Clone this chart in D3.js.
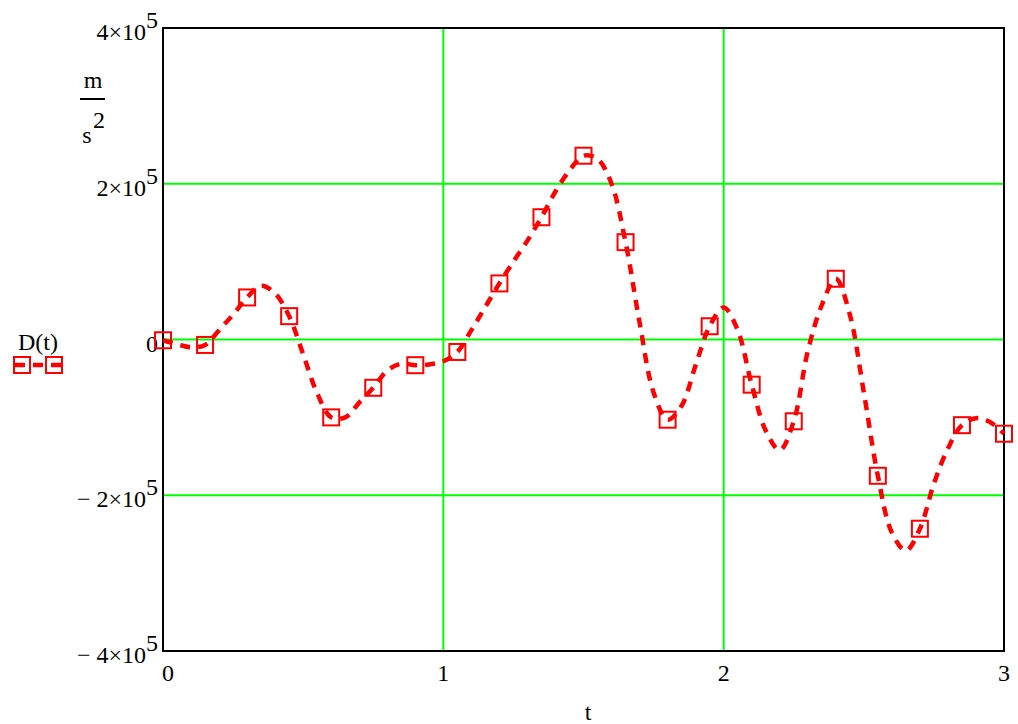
<!DOCTYPE html>
<html>
<head>
<meta charset="UTF-8">
<script src="https://d3js.org/d3.v7.min.js"></script>
<style>
  body { margin: 0; background: #fff; }
  text { font-family: "Liberation Serif", "Times New Roman", serif; fill: #000; }
  .grid { stroke: #00ff00; stroke-width: 2px; }
  .frame { fill: none; stroke: #000; stroke-width: 2px; }
  .curve { fill: none; stroke: #ff0000; stroke-width: 4.5px; stroke-dasharray: 10 8; }
  .marker { fill: none; stroke: #ff0000; stroke-width: 2px; }
</style>
</head>
<body>
<svg id="chart" width="1018" height="724"></svg>
<script>
// sample times (s) and D(t) values (m/s^2)
const tValues = [0, 0.05, 0.1, 0.15, 0.2, 0.25, 0.3, 0.35, 0.4, 0.45,
  0.5, 0.55, 0.6, 0.65, 0.7, 0.75, 0.8, 0.85, 0.9, 0.95,
  1.0, 1.05, 1.1, 1.15, 1.2, 1.25, 1.3, 1.35, 1.4, 1.45,
  1.5, 1.55, 1.6, 1.65, 1.7, 1.75, 1.8, 1.85, 1.9, 1.95,
  2.0, 2.05, 2.1, 2.15, 2.2, 2.25, 2.3, 2.35, 2.4, 2.45,
  2.5, 2.55, 2.6, 2.65, 2.7, 2.75, 2.8, 2.85, 2.9, 2.95, 3.0];
const dValues = [-1e3, -6e3, -10e3, -7e3, 12e3, 32e3, 54e3, 69e3, 59e3, 30e3,
  -19e3, -69e3, -100e3, -100e3, -81e3, -62e3, -40e3, -31e3, -33e3, -32e3,
  -28e3, -16e3, 12e3, 42e3, 72e3, 100e3, 127e3, 157e3, 190e3, 217e3,
  236e3, 232e3, 200e3, 125e3, 22e3, -68e3, -103e3, -85e3, -33e3, 17e3,
  41e3, 12e3, -58e3, -117e3, -142e3, -105e3, -15e3, 44e3, 78e3, 32e3,
  -68e3, -175e3, -248e3, -271e3, -243e3, -185e3, -140e3, -110e3, -101e3, -106e3, -121e3];
// a marker sits on every third sample
const markerEvery = 3;

const xTicks = [0, 1, 2, 3];
const xTickLabels = ["0", "1", "2", "3"];
const yTicks = [-4e5, -2e5, 0, 2e5, 4e5];
const yTickLabels = [["\u2212 4\u00d710", "5"], ["\u2212 2\u00d710", "5"], ["0", ""], ["2\u00d710", "5"], ["4\u00d710", "5"]];

const svg = d3.select("#chart");
const x = d3.scaleLinear().domain([0, 3]).range([163, 1004]);
const y = d3.scaleLinear().domain([-4e5, 4e5]).range([651, 28]);

const data = tValues.map((t, i) => ({t: t, d: dValues[i]}));

// grid
svg.append("g").selectAll("line")
  .data(xTicks.filter(v => v > 0 && v < 3))
  .enter().append("line")
  .attr("class", "grid")
  .attr("x1", d => x(d)).attr("x2", d => x(d))
  .attr("y1", y(4e5)).attr("y2", y(-4e5));
svg.append("g").selectAll("line")
  .data(yTicks.filter(v => v > -4e5 && v < 4e5))
  .enter().append("line")
  .attr("class", "grid")
  .attr("x1", x(0)).attr("x2", x(3))
  .attr("y1", d => y(d)).attr("y2", d => y(d));

// frame
svg.append("rect")
  .attr("class", "frame")
  .attr("x", x(0)).attr("y", y(4e5))
  .attr("width", x(3) - x(0)).attr("height", y(-4e5) - y(4e5));

// x tick labels
svg.append("g").selectAll("text")
  .data(xTicks)
  .enter().append("text")
  .attr("x", d => x(d) + (d === 0 ? 5 : 0))
  .attr("y", 681)
  .attr("text-anchor", "middle")
  .style("font-size", "24px")
  .text((d, i) => xTickLabels[i]);

// y tick labels with superscript exponent
const yl = svg.append("g").selectAll("text")
  .data(yTicks)
  .enter().append("text")
  .attr("x", 158)
  .attr("y", d => y(d) + 12)
  .attr("text-anchor", "end")
  .style("font-size", "24px");
yl.each(function(d, i) {
  const lab = yTickLabels[i];
  const el = d3.select(this);
  el.append("tspan").text(lab[0]);
  if (lab[1]) {
    el.append("tspan").attr("dy", -12).text(lab[1]);
  }
});

// units m / s^2
const units = svg.append("g");
units.append("text").attr("x", 93).attr("y", 88).attr("text-anchor", "middle")
  .style("font-size", "24px").text("m");
units.append("line").attr("x1", 80).attr("x2", 105).attr("y1", 99).attr("y2", 99)
  .attr("stroke", "#000").attr("stroke-width", 2);
units.append("text").attr("x", 87).attr("y", 143).attr("text-anchor", "middle")
  .style("font-size", "24px").text("s");
units.append("text").attr("x", 99).attr("y", 128).attr("text-anchor", "middle")
  .style("font-size", "24px").text("2");

// axis title
svg.append("text").attr("x", 588).attr("y", 720).attr("text-anchor", "middle")
  .style("font-size", "24px").text("t");

// curve
const line = d3.line()
  .x(d => x(d.t))
  .y(d => y(d.d))
  .curve(d3.curveCatmullRom);
svg.append("path")
  .datum(data)
  .attr("class", "curve")
  .attr("d", line);

// markers
svg.append("g").selectAll("rect")
  .data(data.filter((d, i) => i % markerEvery === 0))
  .enter().append("rect")
  .attr("class", "marker")
  .attr("x", d => x(d.t) - 8)
  .attr("y", d => y(d.d) - 8)
  .attr("width", 16).attr("height", 16);

// legend
const lg = svg.append("g");
lg.append("text").attr("x", 38).attr("y", 350).attr("text-anchor", "middle")
  .style("font-size", "24px").text("D(t)");
lg.append("line").attr("class", "curve")
  .attr("x1", 15).attr("x2", 62).attr("y1", 365).attr("y2", 365);
lg.append("rect").attr("class", "marker")
  .attr("x", 14).attr("y", 357).attr("width", 16).attr("height", 16);
lg.append("rect").attr("class", "marker")
  .attr("x", 46).attr("y", 357).attr("width", 16).attr("height", 16);
</script>
</body>
</html>
